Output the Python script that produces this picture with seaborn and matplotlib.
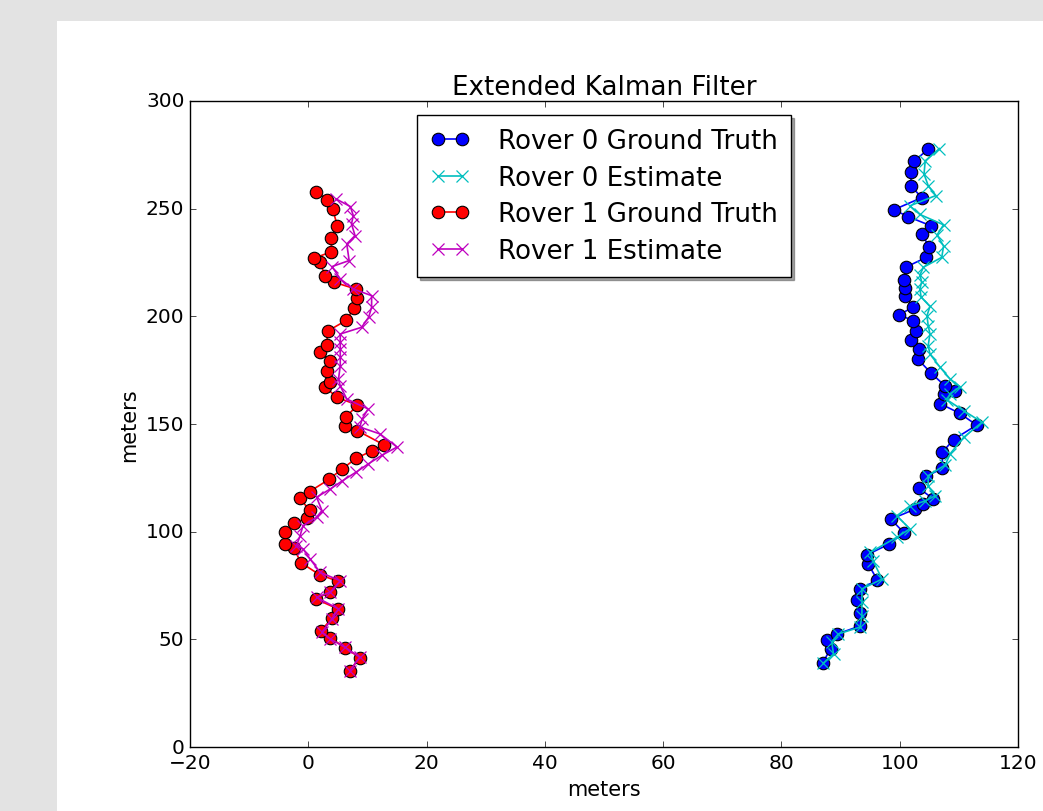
import numpy as np
import pandas as pd
import matplotlib
matplotlib.use("Agg")
import matplotlib.pyplot as plt
import seaborn as sns
from matplotlib.patches import Rectangle

# Rover 0 ground truth / estimate (meters)
r0_true_x = [87.0, 88.3, 87.7, 89.4, 93.2, 93.2, 92.8, 93.2, 96.2, 94.7,
             94.5, 98.1, 100.7, 98.5, 102.6, 104.0, 105.6, 103.2, 104.5, 107.2,
             107.2, 109.1, 113.0, 110.1, 106.8, 107.4, 109.4, 107.6, 105.2, 103.1,
             103.2, 101.9, 102.8, 102.3, 99.9, 102.3, 100.8, 100.8, 100.7, 101.0,
             104.5, 105.0, 103.7, 105.3, 101.4, 99.0, 103.7, 101.9, 101.9, 102.4,
             104.8]
r0_true_y = [39.2, 45.7, 49.7, 52.5, 56.1, 62.2, 68.4, 73.2, 77.6, 84.8,
             89.3, 94.1, 99.5, 105.8, 110.5, 112.9, 115.4, 120.2, 125.7, 129.4,
             136.9, 142.8, 149.5, 155.0, 159.5, 163.7, 165.1, 167.8, 173.9, 180.0,
             184.9, 189.2, 193.2, 198.0, 200.6, 204.5, 209.5, 213.3, 217.1, 222.8,
             227.4, 232.4, 238.0, 242.0, 246.3, 249.5, 255.1, 260.6, 267.2, 272.0,
             277.6]
r0_est_x = [87.1, 88.8, 88.5, 89.6, 93.3, 93.6, 93.6, 93.6, 97.0, 95.5,
            95.0, 99.5, 101.7, 99.5, 101.7, 104.3, 106.0, 104.8, 104.8, 107.7,
            108.5, 110.8, 113.9, 110.8, 108.0, 108.5, 110.2, 108.5, 106.8, 105.1,
            104.8, 105.1, 104.8, 104.6, 105.1, 103.6, 103.4, 103.7, 103.4, 104.0,
            107.1, 107.4, 106.3, 107.4, 103.4, 101.7, 106.1, 104.8, 104.1, 104.3,
            106.7]
r0_est_y = [39.0, 43.2, 48.6, 52.5, 55.7, 61.0, 67.2, 73.4, 78.0, 86.4,
            90.4, 97.4, 101.3, 107.4, 111.9, 114.3, 116.7, 121.2, 126.0, 131.0,
            136.1, 143.8, 150.8, 156.2, 161.2, 164.0, 167.3, 170.9, 176.4, 182.5,
            186.4, 191.8, 195.7, 200.3, 204.6, 209.0, 212.7, 216.0, 219.2, 222.8,
            227.4, 232.7, 237.8, 242.5, 247.3, 251.3, 256.1, 260.7, 266.1, 272.2,
            277.9]

# Rover 1 ground truth / estimate (meters)
r1_true_x = [7.0, 8.7, 6.2, 3.7, 2.1, 4.0, 5.0, 1.3, 3.7, 5.0,
             1.9, -1.2, -2.5, -3.9, -3.9, -2.5, -0.3, 0.2, -1.4, 0.2,
             3.5, 5.7, 8.1, 10.8, 12.8, 8.3, 6.2, 6.4, 8.3, 4.8,
             2.9, 3.6, 3.1, 3.7, 2.0, 3.1, 3.3, 6.4, 7.7, 8.2,
             8.0, 4.4, 2.8, 2.0, 1.0, 3.9, 3.9, 4.9, 4.1, 3.2,
             1.3]
r1_true_y = [35.4, 41.5, 46.1, 50.8, 53.9, 59.8, 64.1, 68.7, 72.1, 77.0,
             80.0, 85.5, 92.3, 94.4, 100.0, 103.9, 106.2, 109.9, 115.5, 118.6,
             124.3, 129.1, 134.1, 137.6, 140.3, 146.9, 149.3, 153.3, 158.8, 162.4,
             167.1, 169.7, 174.8, 179.3, 183.6, 186.8, 193.2, 198.1, 203.8, 208.5,
             212.7, 215.8, 218.9, 225.1, 227.0, 230.0, 236.4, 242.1, 249.9, 254.2,
             257.9]
r1_est_x = [7.0, 8.7, 6.2, 3.7, 2.3, 4.0, 5.1, 1.4, 3.7, 5.4,
            2.0, 0.3, -0.9, -2.0, -1.4, -0.9, 1.4, 2.3, 1.4, 3.7,
            5.7, 8.1, 10.1, 12.5, 15.0, 12.1, 8.7, 9.1, 10.1, 6.5,
            5.4, 5.1, 5.4, 5.4, 5.4, 5.4, 5.4, 9.0, 10.2, 10.7,
            10.7, 7.6, 5.4, 4.0, 6.9, 6.5, 7.9, 7.3, 7.6, 7.1,
            4.7]
r1_est_y = [35.4, 41.7, 46.3, 50.2, 53.3, 59.5, 64.1, 69.5, 71.9, 77.2,
            81.1, 87.3, 92.0, 93.5, 98.1, 102.8, 106.7, 109.8, 116.0, 119.8,
            123.5, 127.7, 131.4, 135.6, 139.3, 145.4, 148.6, 152.3, 157.0, 161.6,
            167.7, 170.9, 177.0, 181.1, 184.9, 188.1, 191.8, 194.9, 199.6, 204.2,
            209.6, 212.7, 217.4, 223.1, 225.9, 233.6, 237.5, 242.9, 246.8, 251.0,
            254.5]

plt.style.use("classic")
plt.rcParams["font.family"] = ["DejaVu Sans"]
plt.rcParams["legend.numpoints"] = 2

fig = plt.figure(figsize=(10.43, 8.12), dpi=100, facecolor="#e3e3e3")
# white page area of the screenshot, kept behind the axes
fig.patches.append(Rectangle((0.0547, 0.0), 0.9453, 0.9729, transform=fig.transFigure,
                             facecolor="white", edgecolor="none", zorder=-10))
ax = fig.add_axes([0.1822, 0.0788, 0.7939, 0.7956])
ax.set_facecolor("white")

sns.lineplot(x=r0_true_x, y=r0_true_y, sort=False, estimator=None, ax=ax,
             color="b", marker="o", markersize=9, markeredgecolor="k",
             markeredgewidth=0.8, linewidth=1.2, label="Rover 0 Ground Truth")
sns.lineplot(x=r0_est_x, y=r0_est_y, sort=False, estimator=None, ax=ax,
             color="c", marker="x", markersize=9, markeredgecolor="c",
             markeredgewidth=0.9, linewidth=1.2, label="Rover 0 Estimate")
sns.lineplot(x=r1_true_x, y=r1_true_y, sort=False, estimator=None, ax=ax,
             color="r", marker="o", markersize=9, markeredgecolor="k",
             markeredgewidth=0.8, linewidth=1.2, label="Rover 1 Ground Truth")
sns.lineplot(x=r1_est_x, y=r1_est_y, sort=False, estimator=None, ax=ax,
             color="m", marker="x", markersize=9, markeredgecolor="m",
             markeredgewidth=0.9, linewidth=1.2, label="Rover 1 Estimate")

ax.set_xlim(-20, 120)
ax.set_ylim(0, 300)
ax.set_xticks(np.arange(-20, 121, 20))
ax.set_yticks(np.arange(0, 301, 50))
ax.tick_params(labelsize=14.5, direction="in", top=True, right=True)
ax.set_xlabel("meters", fontsize=15)
ax.set_ylabel("meters", fontsize=15)
ax.set_title("Extended Kalman Filter", fontsize=18.8)

leg = ax.legend(loc="upper center", fontsize=18.8, shadow=True, fancybox=False,
                numpoints=2, borderaxespad=0.55, labelspacing=0.4,
                handlelength=1.5, handletextpad=1.1, borderpad=0.5)
leg.get_frame().set_edgecolor("k")

fig.savefig("out.png", dpi=100, facecolor=fig.get_facecolor())
